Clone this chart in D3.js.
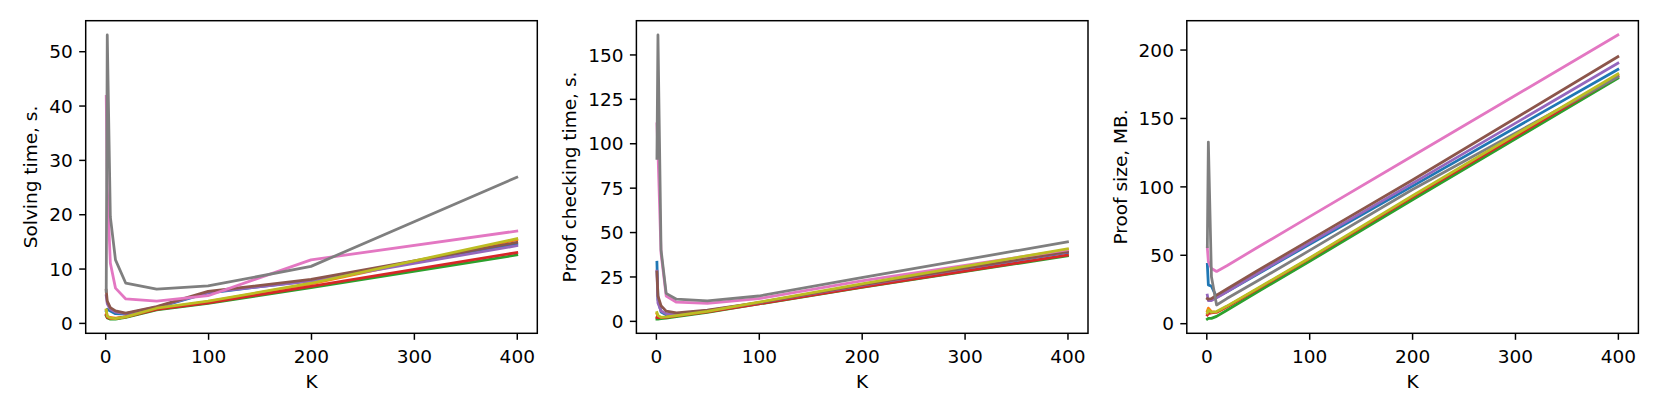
<!DOCTYPE html>
<html>
<head>
<meta charset="UTF-8">
<title>K sweep</title>
<script src="https://cdn.jsdelivr.net/npm/d3@7"></script>
<style>
body, html {
	padding: 0;
	margin: 0;
	background: #ffffff;
	overflow: hidden;
}
text {
	font-family: 'DejaVu Sans', sans-serif;
}
</style>
</head>
<body>
<div id="chart"></div>
<script>
// K values on the x axis
var kValues = [1, 2, 5, 10, 20, 50, 100, 200, 400];

var seriesColors = ["#1f77b4", "#ff7f0e", "#2ca02c", "#d62728", "#9467bd", "#8c564b", "#e377c2", "#7f7f7f", "#bcbd22"];

// one row per series, one value per K
var solvingTime = [
	[2.2, 2.5, 2.2, 1.7, 1.6, 2.8, 5.5, 7.8, 14.5],
	[2.3, 1.2, 1.0, 0.9, 1.1, 2.6, 3.9, 7.2, 15.3],
	[1.3, 0.9, 0.7, 0.7, 1.0, 2.4, 3.6, 6.5, 12.5],
	[1.5, 1.0, 0.8, 0.8, 1.1, 2.5, 3.7, 6.7, 12.95],
	[5.0, 3.5, 2.5, 2.0, 1.7, 2.9, 5.6, 7.7, 14.2],
	[6.0, 4.0, 2.8, 2.2, 1.8, 3.0, 5.8, 8.0, 14.8],
	[41.7, 25, 11, 6.4, 4.4, 4.0, 5.0, 11.6, 16.9],
	[5.8, 53, 19.5, 11.6, 7.3, 6.2, 6.8, 10.4, 26.8],
	[2.4, 1.2, 0.9, 0.8, 1.1, 2.7, 4.0, 7.3, 15.5]
];

var checkingTime = [
	[33, 12, 5, 3.5, 3.5, 5.5, 10, 20, 38.5],
	[4, 2.5, 1.8, 2, 2.8, 5.2, 10, 20.3, 40],
	[1, 1, 1.2, 1.6, 2.4, 4.8, 9.5, 18.8, 36.6],
	[2, 1.8, 1.8, 2, 2.8, 5, 9.6, 19, 37],
	[28, 10, 5.5, 4, 4, 5.7, 10.2, 20, 38.9],
	[27.5, 14, 8.5, 5.5, 4.5, 6, 10.3, 20.2, 39],
	[111, 95, 38, 14, 10.5, 9.9, 12.5, 22.5, 40],
	[91.5, 161, 40, 15.5, 12.2, 11.3, 14, 24.3, 44.5],
	[4.7, 3, 2, 2.2, 3, 5.3, 10.5, 20.8, 40.5]
];

var proofSize = [
	[43, 28, 27, 19, 23, 36, 57.5, 100, 185.5],
	[9, 11, 8.5, 8, 12, 25, 47, 92, 181.5],
	[3, 3.5, 3.5, 5, 9.5, 23, 45, 90, 179],
	[6, 7, 7.5, 8, 12, 25, 47, 92, 180.5],
	[20.5, 16.5, 16.5, 18.5, 23, 36.5, 58.5, 102, 190],
	[18, 17.5, 18, 20.5, 25, 38.5, 60.5, 104.5, 194.8],
	[55, 45, 40, 37.8, 42, 55.5, 77.7, 122, 210.7],
	[56, 132.4, 34, 13.3, 18, 31, 53, 97.5, 180],
	[7.5, 9.5, 8, 8.5, 12.5, 25.5, 47.5, 93, 182.2]
];

var xTicks = [0, 100, 200, 300, 400];
var solvingTicks = [0, 10, 20, 30, 40, 50];
var checkingTicks = [0, 25, 50, 75, 100, 125, 150];
var sizeTicks = [0, 50, 100, 150, 200];

var panels = [
	{label: "Solving time, s.", data: solvingTime, ticks: solvingTicks, left: 85.7},
	{label: "Proof checking time, s.", data: checkingTime, ticks: checkingTicks, left: 636.4},
	{label: "Proof size, MB.", data: proofSize, ticks: sizeTicks, left: 1186.8}
];

var width = 1661;
var height = 415;
var axWidth = 451.6;
var axTop = 20.7;
var axHeight = 312.6;
var fontSize = 18.5;
var tickLen = 6.5;
var tickPad = 6.4;
var lineWidth = 1.48;

var svg = d3.select("#chart").append("svg").attr("width", width).attr("height", height);

// matplotlib style 5% margin around the data
function padded(lo, hi) {
	var m = (hi - lo)*0.05;
	return [lo - m, hi + m];
}

function drawPanel(p) {
	var g = svg.append("g").attr("transform", "translate(" + p.left + "," + axTop + ")");

	var x = d3.scaleLinear().domain(padded(d3.min(kValues), d3.max(kValues))).range([0, axWidth]);
	var all = d3.merge(p.data);
	var y = d3.scaleLinear().domain(padded(d3.min(all), d3.max(all))).range([axHeight, 0]);

	var line = d3.line().x(function(d, i) {return x(kValues[i])}).y(function(d) {return y(d)});

	g.append("g").selectAll("path").data(p.data).enter().append("path")
		.attr("d", line)
		.attr("fill", "none")
		.attr("stroke", function(d, i) {return seriesColors[i]})
		.attr("stroke-width", 2.77)
		.attr("stroke-linejoin", "round")
		.attr("stroke-linecap", "square");

	g.append("rect").attr("width", axWidth).attr("height", axHeight)
		.attr("fill", "none").attr("stroke", "#000").attr("stroke-width", lineWidth);

	var xAxis = g.append("g").attr("transform", "translate(0," + axHeight + ")")
		.call(d3.axisBottom(x).tickValues(xTicks).tickSize(tickLen).tickPadding(tickPad).tickSizeOuter(0));
	var yAxis = g.append("g")
		.call(d3.axisLeft(y).tickValues(p.ticks).tickSize(tickLen).tickPadding(tickPad).tickSizeOuter(0));

	[xAxis, yAxis].forEach(function(a) {
		a.attr("font-family", "'DejaVu Sans', sans-serif").attr("font-size", fontSize);
		a.select(".domain").remove();
		a.selectAll("line").attr("stroke", "#000").attr("stroke-width", lineWidth);
		a.selectAll("text").attr("fill", "#000");
	});
	xAxis.selectAll("text").attr("dy", "0.93em");
	yAxis.selectAll("text").attr("dy", "0.36em");

	var minLeft = d3.min(yAxis.selectAll("text").nodes(), function(n) {return n.getBBox().x});

	g.append("text")
		.attr("transform", "translate(" + (minLeft - 7.4 - 0.236*fontSize) + "," + (axHeight/2) + ") rotate(-90)")
		.attr("text-anchor", "middle")
		.attr("font-size", fontSize)
		.text(p.label);

	g.append("text")
		.attr("x", axWidth/2)
		.attr("y", axHeight + 54.5)
		.attr("text-anchor", "middle")
		.attr("font-size", fontSize)
		.text("K");
}

panels.forEach(drawPanel);
</script>
</body>
</html>
